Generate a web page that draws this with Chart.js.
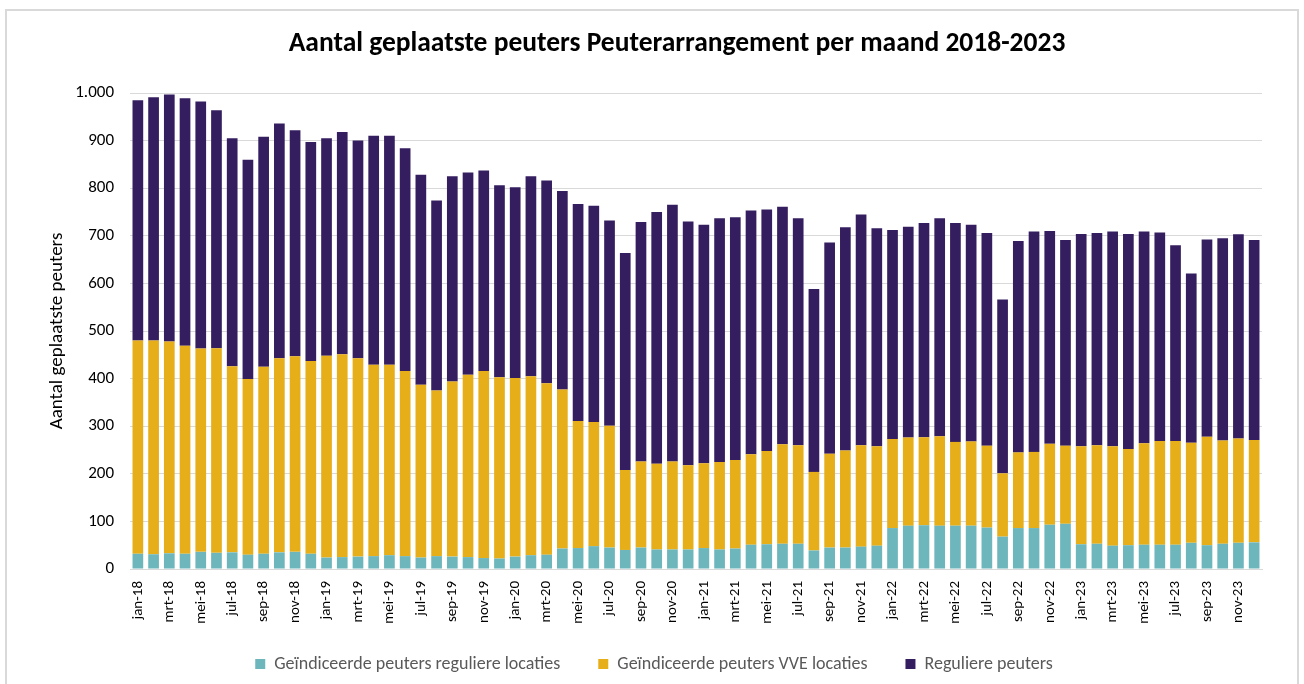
<!DOCTYPE html>
<html>
<head>
<meta charset="utf-8">
<script src="https://cdn.jsdelivr.net/npm/chart.js@4/dist/chart.umd.min.js"></script>
<style>
html,body{margin:0;padding:0;background:#fff;}
#wrap{position:relative;width:1304px;height:684px;}
#frame{position:absolute;left:5px;top:9px;width:1294px;height:690px;border:2px solid #d9d9d9;box-sizing:border-box;pointer-events:none;}
canvas{display:block;}
</style>
</head>
<body>
<div id="wrap">
<canvas id="c" width="1304" height="684"></canvas>
<div id="frame"></div>
</div>
<script>
const months = ['jan','feb','mrt','apr','mei','jun','jul','aug','sep','okt','nov','dec'];
const years = ['18','19','20','21','22','23'];
const categories = [];
years.forEach(y => months.forEach(m => categories.push(m + '-' + y)));

const geindiceerdRegulier = [32,31,33,32,36,34,35,30,32,35,36,32,
  24,25,26,27,29,27,24,27,26,25,23,22,
  26,29,30,43,44,48,45,40,45,41,41,41,
  44,41,43,51,52,53,53,39,45,45,47,49,
  86,91,92,91,91,91,87,68,86,86,93,95,
  52,53,49,50,51,51,51,55,50,53,55,56];
const geindiceerdVVE = [448,449,445,437,427,430,391,369,393,408,411,405,
  424,426,417,402,400,389,363,348,368,383,393,381,
  375,376,360,334,267,261,256,168,181,180,185,177,
  178,184,186,190,196,209,207,165,197,204,213,209,
  187,185,185,188,176,177,172,133,159,160,170,164,
  206,207,209,202,213,218,218,210,228,217,219,215];
const regulierePeuters = [505,511,519,520,519,500,479,461,483,493,475,460,
  457,467,457,481,481,468,441,399,431,425,421,403,
  401,420,426,417,456,454,431,456,503,529,539,512,
  501,512,510,512,507,499,477,384,444,469,485,458,
  439,443,450,458,460,455,447,365,444,463,447,432,
  446,446,451,452,445,438,411,356,414,425,429,420];
const yTicks = [0,100,200,300,400,500,600,700,800,900,1000];
const seriesNames = ['Geïndiceerde peuters reguliere locaties','Geïndiceerde peuters VVE locaties','Reguliere peuters'];
const chartTitle = 'Aantal geplaatste peuters Peuterarrangement per maand 2018-2023';
const yTitle = 'Aantal geplaatste peuters';

const font = "Calibri, Carlito, 'Open Sans', sans-serif";
const common = {stack:'s', barPercentage:0.68, categoryPercentage:1.0, borderWidth:0};

const titlePlugin = {
  id:'titleText',
  afterDraw(chart){
    const ctx = chart.ctx;
    ctx.save();
    ctx.font = 'bold 27.5px ' + font;
    ctx.fillStyle = '#000';
    ctx.textAlign = 'center';
    ctx.textBaseline = 'middle';
    ctx.fillText(chartTitle, 677, 44);
    ctx.restore();
  }
};

new Chart(document.getElementById('c'), {
  type:'bar',
  data:{
    labels:categories,
    datasets:[
      Object.assign({label:seriesNames[0], data:geindiceerdRegulier, backgroundColor:'#6DB6BC'}, common),
      Object.assign({label:seriesNames[1], data:geindiceerdVVE, backgroundColor:'#E6AE18'}, common),
      Object.assign({label:seriesNames[2], data:regulierePeuters, backgroundColor:'#341E5F'}, common)
    ]
  },
  plugins:[titlePlugin],
  options:{
    responsive:false,
    animation:false,
    layout:{padding:{left:46,right:42,top:93,bottom:1}},
    plugins:{
      title:{display:false},
      legend:{position:'bottom',
        labels:{boxWidth:10,boxHeight:10,padding:38,color:'#595959',font:{family:font,size:18}}},
      tooltip:{enabled:false}
    },
    scales:{
      x:{stacked:true,
        afterFit:function(s){s.height=48;s._computeLabelArea=function(){return undefined;};},
        grid:{display:false,drawTicks:false},
        border:{display:true,color:'#d9d9d9',width:1},
        ticks:{autoSkip:false,minRotation:90,maxRotation:90,padding:12,color:'#000',
          font:{family:font,size:15},
          callback:function(v,i){return i%2===0?categories[i]:'';}}
      },
      y:{stacked:true,min:0,max:1000,
        afterFit:function(s){s.width=84;},
        afterBuildTicks:function(ax){ax.ticks=yTicks.map(v=>({value:v}));},
        grid:{color:'#d9d9d9',lineWidth:1,drawTicks:false},
        border:{display:false},
        ticks:{padding:16,color:'#000',font:{family:font,size:17},
          callback:function(v){return v>=1000?(Math.floor(v/1000)+'.'+String(v%1000).padStart(3,'0')):String(v);}},
        title:{display:true,text:yTitle,color:'#000',font:{family:font,size:19},padding:{top:0,bottom:12}}
      }
    }
  }
});
</script>
</body>
</html>
